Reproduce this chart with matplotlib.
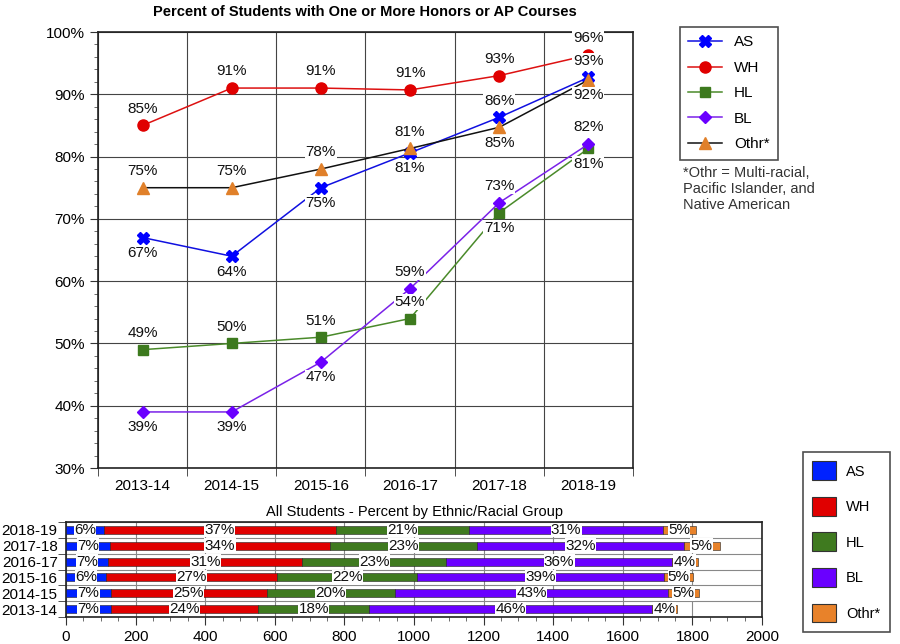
import numpy as np
import matplotlib
matplotlib.use('Agg')
import matplotlib.pyplot as plt
from matplotlib.patches import Patch
from matplotlib.lines import Line2D
from matplotlib.ticker import MultipleLocator, FuncFormatter

plt.rcParams['font.family'] = ['Liberation Sans', 'DejaVu Sans']

YEARS = ['2013-14', '2014-15', '2015-16', '2016-17', '2017-18', '2018-19']
GROUPS = ['AS', 'WH', 'HL', 'BL', 'Othr*']

# percent of students with one or more honors / AP courses
PCT_AS = [67, 64, 75, 80.6, 86.3, 92.7]
PCT_WH = [85, 91, 91, 90.7, 93, 96.3]
PCT_HL = [49, 50, 51, 54, 71, 81.3]
PCT_BL = [39, 39, 47, 58.8, 72.6, 82]
PCT_OT = [75, 75, 78, 81.3, 84.7, 92.3]

# label placement: +1 above the point, -1 below
POS_AS = [-1, -1, -1, -1, 1, 1]
POS_WH = [1, 1, 1, 1, 1, 1]
POS_HL = [1, 1, 1, 1, -1, -1]
POS_BL = [-1, -1, -1, 1, 1, 1]
POS_OT = [1, 1, 1, 1, -1, -1]

# student counts by group (2013-14 ... 2018-19)
N_AS = [128, 129, 116, 122, 127, 110]
N_WH = [425, 448, 491, 557, 631, 665]
N_HL = [318, 367, 402, 414, 424, 384]
N_BL = [812, 787, 710, 648, 593, 556]
N_OT = [73, 87, 84, 74, 103, 94]

LINE_STYLE = {
    'AS': dict(color='#1010e0', marker='X', mfc='#0000ff', mec='#0000ff', ms=8),
    'WH': dict(color='#dd1111', marker='o', mfc='#e00000', mec='#e00000', ms=8),
    'HL': dict(color='#4a8a2a', marker='s', mfc='#3d7a1e', mec='#3d7a1e', ms=7),
    'BL': dict(color='#7a22e8', marker='D', mfc='#6a00ff', mec='#6a00ff', ms=6),
    'Othr*': dict(color='#111111', marker='^', mfc='#e0802a', mec='#e0802a', ms=8),
}
BAR_COLORS = ['#0022ff', '#e00000', '#3f7a1f', '#6a00ff', '#e8822a']


def pct(v):
    return '%d%%' % int(v + 0.5)


fig = plt.figure(figsize=(9, 6.44), dpi=100)

# ---- top line chart
ax = fig.add_axes([98 / 900, 1 - 468 / 644, 535 / 900, 436 / 644])
x = np.arange(len(YEARS))
series = [('AS', PCT_AS, POS_AS), ('WH', PCT_WH, POS_WH), ('HL', PCT_HL, POS_HL),
          ('BL', PCT_BL, POS_BL), ('Othr*', PCT_OT, POS_OT)]
for name, vals, pos in series:
    st = LINE_STYLE[name]
    ax.plot(x, vals, color=st['color'], lw=1.1, marker=st['marker'], ms=st['ms'],
            mfc=st['mfc'], mec=st['mec'], zorder=3)
for name, vals, pos in series:
    for xi, v, p in zip(x, vals, pos):
        ax.annotate(pct(v), (xi, v), xytext=(0, 12 if p > 0 else -11),
                    textcoords='offset points', ha='center', va='center',
                    fontsize=11, color='#111111', zorder=5,
                    bbox=dict(boxstyle='square,pad=0.05', fc='white', ec='none'))

ax.set_xlim(-0.5, 5.5)
ax.set_ylim(30, 100)
ax.set_xticks(x)
ax.set_xticklabels(YEARS, fontsize=11)
ax.set_xticks(np.arange(-0.5, 6, 1), minor=True)
ax.tick_params(axis='x', which='major', length=0, pad=8)
ax.tick_params(axis='x', which='minor', length=6, color='#333333')
ax.yaxis.set_major_locator(MultipleLocator(10))
ax.yaxis.set_minor_locator(MultipleLocator(2))
ax.yaxis.set_major_formatter(FuncFormatter(lambda v, _: '%d%%' % v))
ax.tick_params(axis='y', which='major', length=6, labelsize=11, color='#333333')
ax.tick_params(axis='y', which='minor', length=3, color='#555555')
ax.grid(True, which='major', axis='y', color='#444444', lw=0.8)
ax.grid(True, which='minor', axis='x', color='#444444', lw=0.8)
for s in ax.spines.values():
    s.set_color('#222222')
    s.set_linewidth(1.2)

fig.text(365 / 900, 1 - 12 / 644, 'Percent of Students with One or More Honors or AP Courses',
         ha='center', va='center', fontsize=10.5, fontweight='bold')

handles = [Line2D([], [], color=LINE_STYLE[g]['color'], lw=1.1, marker=LINE_STYLE[g]['marker'],
                  ms=LINE_STYLE[g]['ms'], mfc=LINE_STYLE[g]['mfc'], mec=LINE_STYLE[g]['mec'])
           for g in GROUPS]
leg = fig.legend(handles, GROUPS, loc='upper left', bbox_to_anchor=(680 / 900, 1 - 27 / 644),
                 borderaxespad=0, fontsize=11, frameon=True, fancybox=False,
                 edgecolor='#222222', handlelength=2.2, labelspacing=0.75, borderpad=0.55,
                 handletextpad=0.8)
leg.get_frame().set_linewidth(1.2)
fig.text(683 / 900, 1 - 166 / 644, '*Othr = Multi-racial,\nPacific Islander, and\nNative American',
         ha='left', va='top', fontsize=10.5, color='#333333', linespacing=1.2)

# ---- bottom stacked bar chart
bx = fig.add_axes([66 / 900, 1 - 617 / 644, 696 / 900, 95 / 644])
counts = np.array([N_AS, N_WH, N_HL, N_BL, N_OT], dtype=float)
totals = counts.sum(axis=0)
left = np.zeros(len(YEARS))
for gi, g in enumerate(GROUPS):
    vals = counts[gi]
    bx.barh(x, vals, left=left, height=0.5, color=BAR_COLORS[gi],
            edgecolor='#222222', lw=0.4, zorder=3)
    for yi in range(len(YEARS)):
        bx.text(left[yi] + vals[yi] / 2, yi, pct(vals[yi] / totals[yi] * 100),
                ha='center', va='center', fontsize=11, color='#111111', zorder=5,
                bbox=dict(boxstyle='square,pad=0.02', fc='white', ec='none'))
    left += vals

bx.set_xlim(0, 2000)
bx.set_ylim(-0.5, 5.5)
bx.set_yticks(x)
bx.set_yticklabels(YEARS, fontsize=11)
bx.set_yticks(np.arange(-0.5, 6, 1), minor=True)
bx.tick_params(axis='y', which='major', length=0, pad=6)
bx.tick_params(axis='y', which='minor', length=6, color='#333333')
bx.xaxis.set_major_locator(MultipleLocator(200))
bx.xaxis.set_minor_locator(MultipleLocator(50))
bx.tick_params(axis='x', which='major', length=6, labelsize=11, color='#333333')
bx.tick_params(axis='x', which='minor', length=3, color='#555555')
bx.grid(True, which='major', axis='x', color='#888888', lw=0.8)
bx.grid(True, which='minor', axis='y', color='#888888', lw=0.8)
for s in bx.spines.values():
    s.set_color('#222222')
    s.set_linewidth(1.2)
bx.set_title('All Students - Percent by Ethnic/Racial Group', fontsize=10.5, pad=4)

patches = [Patch(facecolor=c, edgecolor='#333333', lw=0.8) for c in BAR_COLORS]
leg2 = fig.legend(patches, GROUPS, loc='upper left', bbox_to_anchor=(803 / 900, 1 - 452 / 644),
                  borderaxespad=0, fontsize=10.5, frameon=True, fancybox=False,
                  edgecolor='#222222', handlelength=1.6, handleheight=1.6, labelspacing=1.15,
                  borderpad=0.65, handletextpad=0.7)
leg2.get_frame().set_linewidth(1.2)

fig.savefig('out.png', dpi=100, facecolor='white')
